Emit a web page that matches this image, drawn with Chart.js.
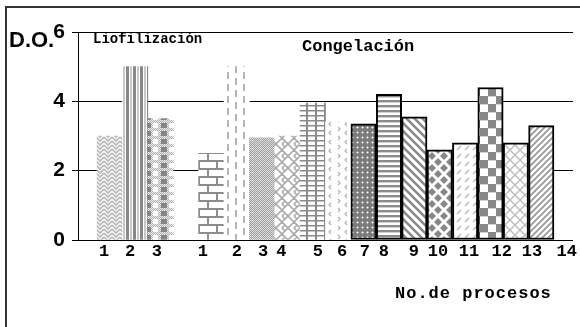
<!DOCTYPE html>
<html>
<head>
<meta charset="utf-8">
<script src="https://cdn.jsdelivr.net/npm/chart.js@4.4.1/dist/chart.umd.min.js"></script>
<style>
    html, body { margin: 0; padding: 0; background: #fff; }
    #wrap { width: 580px; height: 327px; }
</style>
</head>
<body>
<div id="wrap"><canvas id="chartProcesos" width="580" height="327"></canvas></div>
<script>
(() => {
    const groups = ['Liofilización', 'Congelación'];
    const lioLabels = ['1', '2', '3'];
    const lioValues = [3.0, 5.0, 3.5];
    const conLabels = ['1', '2', '3', '4', '5', '6', '7', '8', '9', '10', '11', '12', '13', '14'];
    const conValues = [2.5, 5.0, 2.95, 3.0, 3.95, 3.4, 3.35, 4.2, 3.55, 2.6, 2.8, 4.4, 2.8, 3.3];
    const yTicks = [0, 2, 4, 6];
    const yTitle = 'D.O.';
    const xTitle = 'No.de procesos';

    // where each process number is printed, measured in bar slots
    const lioTickSlots = [-0.22, 0.8, 1.86];
    const conTickSlots = [3.67, 5.01, 6.04, 6.76, 8.2, 9.15, 10.05, 10.8, 11.98, 12.93, 14.15, 15.44, 16.63, 18.0];

    const canvas = document.getElementById('chartProcesos');
    if (!canvas || typeof Chart === 'undefined') {
        return;
    }
    const ctx = canvas.getContext('2d');

    const makePattern = (w, h, draw) => {
        const tile = document.createElement('canvas');
        tile.width = w;
        tile.height = h;
        const g = tile.getContext('2d');
        g.fillStyle = '#fff';
        g.fillRect(0, 0, w, h);
        draw(g, w, h);
        return ctx.createPattern(tile, 'repeat');
    };

    const lines = (g, color, width, segs) => {
        g.strokeStyle = color;
        g.lineWidth = width;
        g.beginPath();
        segs.forEach((s) => {
            g.moveTo(s[0], s[1]);
            for (let i = 2; i < s.length; i += 2) {
                g.lineTo(s[i], s[i + 1]);
            }
        });
        g.stroke();
    };

    const dither = (g, w, h, a, b) => {
        for (let y = 0; y < h; y++) {
            for (let x = 0; x < w; x++) {
                g.fillStyle = (x + y) % 2 ? a : b;
                g.fillRect(x, y, 1, 1);
            }
        }
    };

    const fills = [
        // liofilización
        makePattern(8, 8, (g) => lines(g, '#b4b4b4', 1.6, [[0, 1, 4, 5, 8, 1], [0, 5, 4, 9, 8, 5], [0, -3, 4, 1, 8, -3]])),
        makePattern(7, 1, (g) => {
            g.fillStyle = '#888';
            g.fillRect(0, 0, 3, 1);
            g.fillStyle = '#c8c8c8';
            g.fillRect(4, 0, 2, 1);
        }),
        makePattern(16, 8, (g, w, h) => {
            dither(g, w, h, '#b0b0b0', '#ececec');
            g.fillStyle = '#858585';
            g.fillRect(1, 3, 6, 5);
            g.fillStyle = '#fff';
            g.fillRect(9, 3, 5, 5);
        }),
        // congelación
        makePattern(18, 16, (g) => {
            g.fillStyle = '#8c8c8c';
            g.fillRect(0, 0, 18, 2);
            g.fillRect(0, 8, 18, 2);
            g.fillRect(0, 0, 2, 8);
            g.fillRect(9, 8, 2, 8);
        }),
        makePattern(16, 12, (g) => {
            g.fillStyle = '#b4b4b4';
            g.fillRect(3, 0, 2, 7);
            g.fillRect(11, 6, 2, 6);
            g.fillRect(11, 0, 2, 1);
        }),
        makePattern(8, 8, (g, w, h) => {
            dither(g, w, h, '#a0a0a0', '#dcdcdc');
            g.fillStyle = '#fff';
            g.fillRect(4, 4, 1, 1);
        }),
        makePattern(12, 12, (g) => lines(g, '#aaa', 1.6, [[0, 0, 6, 6, 0, 12], [12, 0, 6, 6, 12, 12], [6, 0, 9, 3], [6, 12, 9, 9]])),
        makePattern(9, 5, (g) => {
            g.fillStyle = '#8a8a8a';
            g.fillRect(0, 0, 9, 1.5);
            g.fillRect(0, 0, 2, 5);
        }),
        makePattern(16, 9, (g) => {
            lines(g, '#b0b0b0', 1.2, [[2, 1, 4, 3, 2, 5], [11, 5, 9, 7, 11, 9], [11, -4, 9, -2, 11, 0]]);
        }),
        makePattern(5, 5, (g) => {
            g.fillStyle = '#7c7c7c';
            g.fillRect(0, 0, 5, 5);
            g.fillStyle = '#b8b8b8';
            g.fillRect(1, 2, 3, 1);
            g.fillRect(2, 1, 1, 3);
            g.fillStyle = '#fff';
            g.fillRect(2, 2, 1, 1);
        }),
        makePattern(1, 5, (g) => {
            g.fillStyle = '#8c8c8c';
            g.fillRect(0, 0, 1, 2);
            g.fillStyle = '#d0d0d0';
            g.fillRect(0, 2, 1, 1);
        }),
        makePattern(8, 8, (g) => lines(g, '#8a8a8a', 2.6, [[-8, 0, 8, 16], [0, 0, 8, 8], [0, -8, 16, 8]])),
        makePattern(12, 12, (g) => {
            g.fillStyle = '#878787';
            g.beginPath();
            [[6, 6], [0, 0], [12, 0], [0, 12], [12, 12]].forEach(([cx, cy]) => {
                g.moveTo(cx, cy - 4);
                g.lineTo(cx + 4, cy);
                g.lineTo(cx, cy + 4);
                g.lineTo(cx - 4, cy);
                g.closePath();
            });
            g.fill();
        }),
        makePattern(8, 8, (g) => lines(g, '#b8b8b8', 1.4, [[1, 6, 5, 2]])),
        makePattern(16, 16, (g) => {
            g.fillStyle = '#888';
            g.fillRect(0, 0, 8, 8);
            g.fillRect(8, 8, 8, 8);
            g.fillStyle = '#d4d4d4';
            g.fillRect(8, 0, 8, 1);
            g.fillRect(0, 8, 8, 1);
        }),
        makePattern(10, 10, (g) => lines(g, '#bcbcbc', 1.4, [[0, 0, 10, 10], [10, 0, 0, 10]])),
        makePattern(6, 6, (g) => lines(g, '#999', 1.8, [[-6, 6, 6, -6], [0, 6, 6, 0], [0, 12, 12, 0]])),
    ];

    // one bar slot is left empty between the two groups
    const points = [
        ...lioValues.map((v, i) => ({ x: i, y: v })),
        ...conValues.map((v, i) => ({ x: lioValues.length + 1 + i, y: v })),
    ];
    const framed = [
        ...lioValues.map(() => 0),
        ...conValues.map((v, i) => (i >= 6 ? 2 : 0)),
    ];
    const tickLabels = [...lioLabels, ...conLabels];
    const tickSlots = [...lioTickSlots, ...conTickSlots];
    const slotMin = -1.25;
    const slotMax = points.length + 1.25;

    const notes = {
        id: 'notes',
        afterDraw(chart) {
            const c = chart.ctx;
            c.save();
            c.strokeStyle = '#333';
            c.lineWidth = 2;
            c.beginPath();
            c.moveTo(6, 327);
            c.lineTo(6, 7);
            c.lineTo(580, 7);
            c.stroke();

            c.fillStyle = '#000';
            c.textBaseline = 'middle';
            c.textAlign = 'left';
            c.font = 'bold 22px "Liberation Sans", Arial, sans-serif';
            c.fillText(yTitle, 9, 41);

            c.font = 'bold 14px "Liberation Mono", "Courier New", monospace';
            c.fillText(groups[0], 93, 39);
            c.font = 'bold 17px "Liberation Mono", "Courier New", monospace';
            c.fillText(groups[1], 302, 47);
            c.letterSpacing = '1px';
            c.fillText(xTitle, 395, 294);
            c.restore();
        },
    };

    new Chart(canvas, {
        type: 'bar',
        data: {
            datasets: [
                {
                    data: points,
                    backgroundColor: fills,
                    borderColor: '#000',
                    borderWidth: framed,
                    borderSkipped: false,
                    barPercentage: 1,
                    categoryPercentage: 1,
                },
            ],
        },
        options: {
            responsive: false,
            animation: false,
            events: [],
            layout: {
                padding: { top: 32, right: 7, bottom: 0, left: 0 },
            },
            plugins: {
                legend: { display: false },
                tooltip: { enabled: false },
            },
            scales: {
                x: {
                    type: 'linear',
                    display: false,
                    offset: false,
                    min: slotMin,
                    max: slotMax,
                },
                xLabels: {
                    type: 'linear',
                    position: 'bottom',
                    offset: false,
                    min: slotMin,
                    max: slotMax,
                    grid: { display: false, drawTicks: false, tickLength: 0 },
                    border: { display: false },
                    ticks: {
                        autoSkip: false,
                        maxRotation: 0,
                        padding: 2,
                        color: '#000',
                        font: { family: '"Liberation Mono", "Courier New", monospace', size: 17, weight: 'bold' },
                        callback: (value, index) => tickLabels[index],
                    },
                    afterBuildTicks: (scale) => {
                        scale.ticks = tickSlots.map((v) => ({ value: v }));
                    },
                    afterFit: (scale) => {
                        scale.height = 87;
                        scale.paddingLeft = 0;
                        scale.paddingRight = 0;
                    },
                },
                y: {
                    min: 0,
                    max: 6,
                    grid: {
                        color: '#000',
                        lineWidth: 1,
                        tickLength: 6,
                    },
                    border: { display: true, color: '#000', width: 1 },
                    ticks: {
                        padding: 7,
                        color: '#000',
                        font: { family: '"Liberation Sans", Arial, sans-serif', size: 21, weight: 'bold' },
                    },
                    afterBuildTicks: (scale) => {
                        scale.ticks = yTicks.map((v) => ({ value: v }));
                    },
                    afterFit: (scale) => {
                        scale.width = 78;
                        scale.paddingTop = 0;
                        scale.paddingBottom = 0;
                    },
                },
            },
        },
        plugins: [notes],
    });
})();
</script>
</body>
</html>
